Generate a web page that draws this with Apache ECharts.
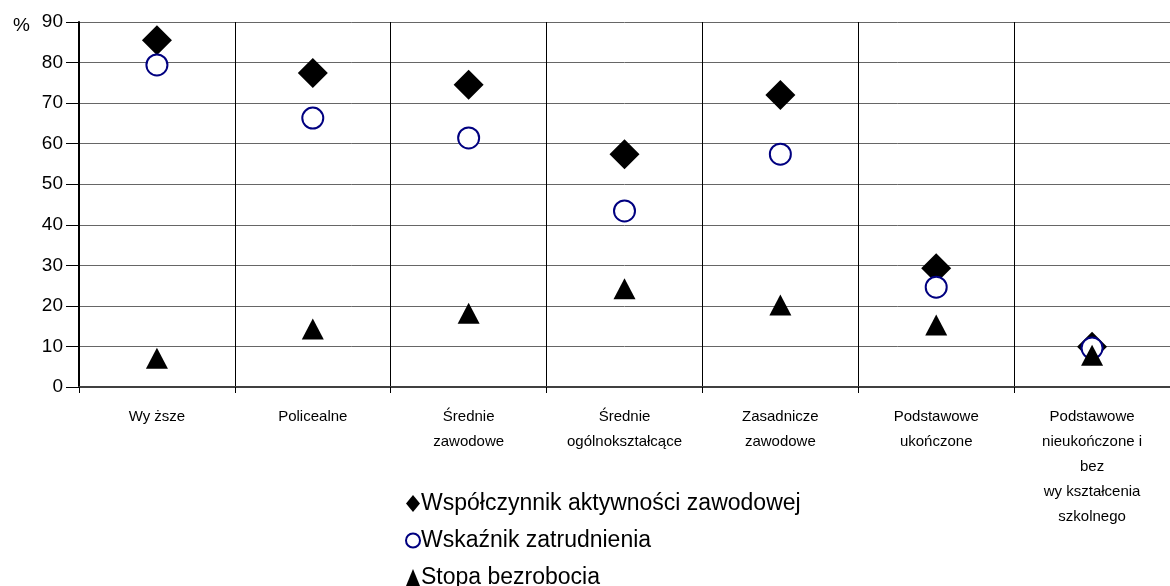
<!DOCTYPE html>
<html>
<head>
<meta charset="utf-8">
<script src="https://cdn.jsdelivr.net/npm/echarts@6/dist/echarts.min.js"></script>
<style>
  html, body { margin: 0; padding: 0; background: #fff; }
  #chart { width: 1170px; height: 586px; }
</style>
</head>
<body>
<div id="chart"></div>
<script>
const categories = [
  'Wy ższe',
  'Policealne',
  'Średnie\nzawodowe',
  'Średnie\nogólnokształcące',
  'Zasadnicze\nzawodowe',
  'Podstawowe\nukończone',
  'Podstawowe\nnieukończone i\nbez\nwy kształcenia\nszkolnego'
]
const seriesNames = ['Współczynnik aktywności zawodowej', 'Wskaźnik zatrudnienia', 'Stopa bezrobocia']
const aktywnosc = [85.5, 77.4, 74.5, 57.4, 72.0, 29.3, 9.9]
const zatrudnienie = [79.4, 66.3, 61.4, 43.4, 57.4, 24.6, 9.6]
const bezrobocie = [7.1, 14.3, 18.2, 24.2, 20.2, 15.3, 7.8]
const yTicks = { min: 0, max: 90, interval: 10 }

const font = '"Liberation Sans", Arial, sans-serif'
const chart = echarts.init(document.getElementById('chart'))

const option = {
  animation: false,
  backgroundColor: '#fff',
  textStyle: { fontFamily: font, color: '#000' },
  title: {
    text: '%', left: 8, top: 11,
    textStyle: { fontFamily: font, fontSize: 19, fontWeight: 'normal', color: '#000' }
  },
  grid: { left: 79, top: 22, width: 1097, height: 365 },
  xAxis: {
    type: 'category',
    data: categories,
    boundaryGap: true,
    axisLine: { lineStyle: { color: '#404040', width: 2 } },
    axisTick: { show: true, length: 6, lineStyle: { color: '#000', width: 1 } },
    splitLine: { show: true, lineStyle: { color: '#000', width: 1 } },
    axisLabel: { color: '#000', fontSize: 15, lineHeight: 25, margin: 17, interval: 0, fontFamily: font }
  },
  yAxis: {
    type: 'value',
    min: yTicks.min, max: yTicks.max, interval: yTicks.interval,
    axisLine: { show: true, lineStyle: { color: '#000', width: 2 } },
    axisTick: { show: true, length: 13, lineStyle: { color: '#000', width: 1 } },
    splitLine: { show: true, lineStyle: { color: '#666', width: 1 } },
    axisLabel: { color: '#000', fontSize: 19, margin: 16, fontFamily: font }
  },
  legend: {
    orient: 'vertical',
    left: 400, top: 487, height: 200,
    itemWidth: 14, itemHeight: 17,
    itemGap: 14,
    textStyle: { fontSize: 23, lineHeight: 22, color: '#000', fontFamily: font, padding: [0, 0, 0, -4] },
    data: [
      { name: seriesNames[0], icon: 'diamond' },
      { name: seriesNames[1], icon: 'circle' },
      { name: seriesNames[2], icon: 'triangle' }
    ]
  },
  series: [
    {
      name: seriesNames[0], type: 'scatter', data: aktywnosc,
      symbol: 'diamond', symbolSize: 30,
      itemStyle: { color: '#000', opacity: 1 }
    },
    {
      name: seriesNames[1], type: 'scatter', data: zatrudnienie,
      symbol: 'circle', symbolSize: 21,
      itemStyle: { color: '#fff', borderColor: '#000080', borderWidth: 2, opacity: 1 }
    },
    {
      name: seriesNames[2], type: 'scatter', data: bezrobocie,
      symbol: 'triangle', symbolSize: [22, 21],
      itemStyle: { color: '#000', opacity: 1 }
    }
  ]
}

chart.setOption(option)
</script>
</body>
</html>
